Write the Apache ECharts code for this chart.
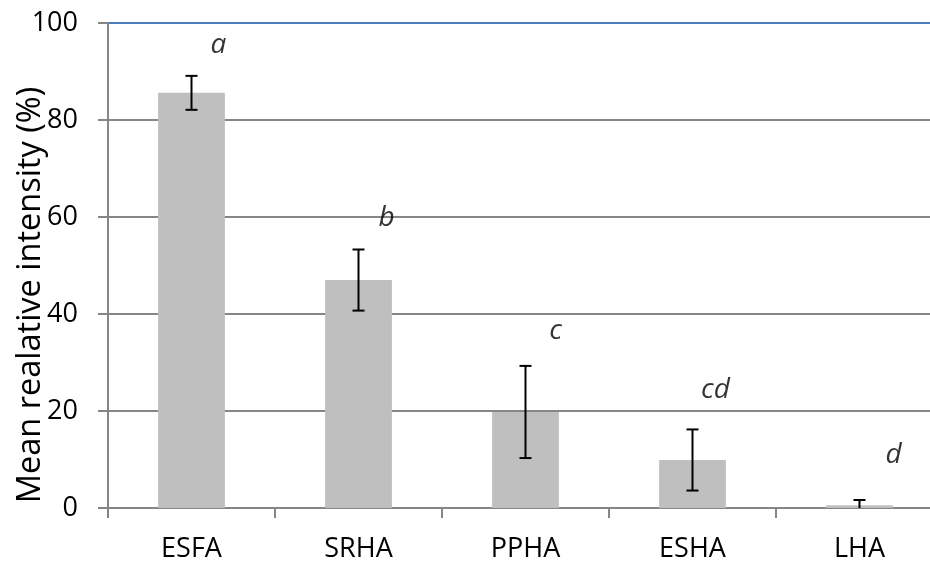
<!DOCTYPE html>
<html><head><meta charset="utf-8">
<script src="https://cdn.jsdelivr.net/npm/echarts@6/dist/echarts.min.js"></script>
<style>html,body{margin:0;padding:0;background:#fff}#c{width:930px;height:563px}</style>
</head><body><div id="c"></div>
<script>
const categories = ['ESFA', 'SRHA', 'PPHA', 'ESHA', 'LHA'];
const meanValues = [85.6, 47.0, 19.8, 9.9, 0.55];
const errorValues = [3.5, 6.3, 9.5, 6.3, 1.1];
const letters = ['a', 'b', 'c', 'cd', 'd'];
const letterY = [95.5, 59.8, 36.5, 24.3, 10.9];
const letterDx = [27, 28, 30, 23, 34];
const yTicks = [0, 20, 40, 60, 80, 100];
const yTitle = 'Mean realative intensity (%)';

const font = '"Open Sans", "Liberation Sans", sans-serif';
const chart = echarts.init(document.getElementById('c'));
chart.setOption({
  animation: false,
  grid: { left: 108, top: 23, right: -13, bottom: 55, containLabel: false, outerBoundsMode: 'none' },
  graphic: [{
    type: 'text', x: 31, y: 295, rotation: Math.PI / 2,
    style: { text: yTitle, fontSize: 32.5, fontFamily: font, fill: '#000', align: 'center', verticalAlign: 'middle' }
  }],
  xAxis: {
    type: 'category', data: categories, boundaryGap: true,
    axisLine: { show: true, lineStyle: { color: '#868686', width: 2 } },
    axisTick: { show: true, interval: 0, length: 10, lineStyle: { color: '#868686', width: 2 } },
    axisLabel: { fontSize: 27, color: '#000', fontFamily: font, margin: 28 }
  },
  yAxis: {
    type: 'value', min: yTicks[0], max: yTicks[yTicks.length - 1], interval: 20,
    axisLine: { show: true, lineStyle: { color: '#868686', width: 2 } },
    axisTick: { show: true, length: 10, lineStyle: { color: '#868686', width: 2 } },
    axisLabel: { fontSize: 27, color: '#000', fontFamily: font, margin: 30 },
    splitLine: { show: true, lineStyle: { color: ['#868686', '#868686', '#868686', '#868686', '#868686', '#4A7EBB'], width: 2 } }
  },
  series: [
    {
      type: 'bar', data: meanValues, barWidth: '40%',
      itemStyle: { color: '#BFBFBF' }, z: 2
    },
    {
      type: 'custom', z: 5,
      data: meanValues.map((v, i) => [i, v, errorValues[i]]),
      renderItem: function (params, api) {
        const i = api.value(0), v = api.value(1), e = api.value(2);
        const top = api.coord([i, v + e]);
        const bot = api.coord([i, Math.max(0, v - e)]);
        const hw = 6;
        const st = { stroke: '#000', lineWidth: 2 };
        const children = [
          { type: 'line', shape: { x1: top[0], y1: top[1], x2: bot[0], y2: bot[1] }, style: st },
          { type: 'line', shape: { x1: top[0] - hw, y1: top[1], x2: top[0] + hw, y2: top[1] }, style: st }
        ];
        if (v - e > 0) children.push({ type: 'line', shape: { x1: bot[0] - hw, y1: bot[1], x2: bot[0] + hw, y2: bot[1] }, style: st });
        return { type: 'group', children: children };
      }
    },
    {
      type: 'scatter', symbolSize: 0, z: 6,
      data: letters.map((t, i) => ({
        value: [i, letterY[i]],
        label: { show: true, formatter: t, position: 'inside', offset: [letterDx[i], 0],
          fontSize: 28, fontStyle: 'italic', color: '#000', fontFamily: font }
      }))
    }
  ]
});
</script></body></html>
